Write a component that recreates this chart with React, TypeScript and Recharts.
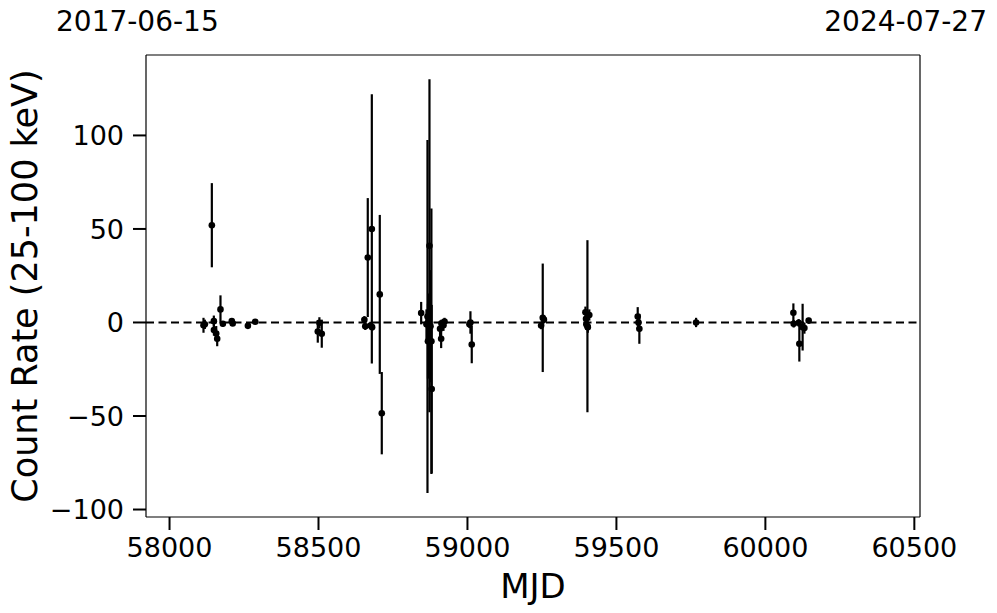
import React from "react";
import {
  ScatterChart,
  Scatter,
  XAxis,
  YAxis,
  ErrorBar,
  ReferenceLine,
} from "recharts";

// Observation times (MJD), count rates and 1-sigma errors
const mjd: number[] = [
  58114, 58118.5, 58142, 58148.7, 58149, 58156.7, 58160, 58171, 58179, 58209, 58212, 58263, 58287.6,
  58497.6, 58503, 58511,
  58654, 58657, 58665.4, 58674.5, 58679, 58680, 58705.7, 58712.4,
  58844.6, 58862.4, 58865.8, 58867.4, 58869, 58872.5, 58876, 58879, 58880, 58908, 58911.7, 58912.7, 58919.5, 58923,
  59006.7, 59010, 59014.4,
  59247.3, 59252.7, 59256.7,
  59396, 59398, 59399, 59402.7, 59404, 59409,
  59571.5, 59574, 59577,
  59767.4,
  60094, 60095, 60111.7, 60114, 60125, 60131, 60145.3,
];
const rate: number[] = [
  -1.5, -1, 52, 0.7, -4, -5.9, -8.7, 7, -0.7, 0.7, -0.5, -1.8, 0.4,
  -4.8, -0.2, -6,
  1.4, -2, 34.7, -1.6, 50, -2.5, 15, -48.5,
  5, -1, 3.2, -10, 0.5, 41, -2, -10, -35.6, -3.4, -8.7, -0.5, -1.5, 0.5,
  -1, 0, -11.8,
  -1.6, 2.5, 1.5,
  5.5, 2, -1, -2, -2.5, 4,
  3.2, 0, -3.4,
  0,
  5.2, -0.7, -0.2, -11.4, -2.5, -3, 1,
];
const rateErr: number[] = [
  4, 2.5, 22.5, 3, 3, 4, 4, 7.5, 1.5, 1.5, 1, 1.5, 1,
  6, 3, 7.5,
  2, 2, 31.8, 2, 72, 2, 42.5, 22,
  6, 8, 94.4, 20, 15, 89, 30, 71, 45, 4, 5, 2, 3, 2,
  2, 6, 10,
  2, 29, 2,
  3, 3, 3, 46, 3, 3,
  5, 3, 8,
  2.5,
  5, 2, 2, 9.5, 12.5, 3, 1.5,
];

const xTicks: number[] = [58000, 58500, 59000, 59500, 60000, 60500];
const yTicks: number[] = [-100, -50, 0, 50, 100];
const xDomain: [number, number] = [57921, 60519];
const yDomain: [number, number] = [-104, 143];
const startDate = "2017-06-15";
const endDate = "2024-07-27";

const data = mjd.map((x, i) => ({ x, y: rate[i], err: rateErr[i] }));

const FONT = "DejaVu Sans";
const fmtY = (v: number) => (v < 0 ? "\u2212" + Math.abs(v) : String(v));

const Dot = (props: any) => {
  const { cx, cy } = props;
  if (cx == null || cy == null) return null;
  return <circle cx={cx} cy={cy} r={3.3} fill="#000" />;
};

export default function App() {
  return (
    <div
      style={{
        position: "absolute",
        left: 0,
        top: 0,
        width: 997,
        height: 613,
        background: "#fff",
        fontFamily: FONT,
      }}
    >
      <ScatterChart
        width={997}
        height={613}
        margin={{ top: 55, right: 77, bottom: 0, left: 0 }}
      >
        <XAxis
          type="number"
          dataKey="x"
          domain={xDomain}
          ticks={xTicks}
          allowDataOverflow
          height={96}
          tickSize={13}
          tickMargin={8}
          axisLine={{ stroke: "#000", strokeWidth: 1.2 }}
          tickLine={{ stroke: "#000", strokeWidth: 2 }}
          tick={{ fill: "#000", fontSize: 27, fontFamily: FONT }}
          label={(p: any) => {
            const vb = p.viewBox;
            return (
              <text
                x={vb.x + vb.width / 2}
                y={vb.y + 81}
                textAnchor="middle"
                fontSize={34}
                fontFamily={FONT}
                fill="#000"
              >
                MJD
              </text>
            );
          }}
        />
        <YAxis
          type="number"
          dataKey="y"
          domain={yDomain}
          ticks={yTicks}
          allowDataOverflow
          width={146}
          tickSize={13}
          tickMargin={9}
          tickFormatter={fmtY}
          axisLine={{ stroke: "#000", strokeWidth: 1.2 }}
          tickLine={{ stroke: "#000", strokeWidth: 2 }}
          tick={{ fill: "#000", fontSize: 27, fontFamily: FONT }}
          label={(p: any) => {
            const vb = p.viewBox;
            const cx = 37;
            const cy = vb.y + vb.height / 2;
            return (
              <text
                x={cx}
                y={cy}
                textAnchor="middle"
                fontSize={35}
                fontFamily={FONT}
                fill="#000"
                transform={`rotate(-90 ${cx} ${cy})`}
              >
                Count Rate (25-100 keV)
              </text>
            );
          }}
        />
        {/* frame: top and right spines */}
        <ReferenceLine y={yDomain[1]} stroke="#000" strokeWidth={1.2} />
        <ReferenceLine x={xDomain[1]} stroke="#000" strokeWidth={1.2} />
        <ReferenceLine
          y={0}
          stroke="#000"
          strokeWidth={2}
          strokeDasharray="8 4.5"
        />
        <Scatter
          data={data}
          dataKey="y"
          fill="#000"
          shape={Dot}
          isAnimationActive={false}
        >
          <ErrorBar
            dataKey="err"
            direction="y"
            width={0}
            stroke="#000"
            strokeWidth={2.2}
            isAnimationActive={false}
          />
        </Scatter>
      </ScatterChart>
      <svg
        width={997}
        height={613}
        style={{ position: "absolute", left: 0, top: 0, pointerEvents: "none" }}
      >
        <text x={56} y={31} fontSize={28} fontFamily={FONT} fill="#000">
          {startDate}
        </text>
        <text x={987} y={31} fontSize={28} fontFamily={FONT} fill="#000" textAnchor="end">
          {endDate}
        </text>
      </svg>
    </div>
  );
}
